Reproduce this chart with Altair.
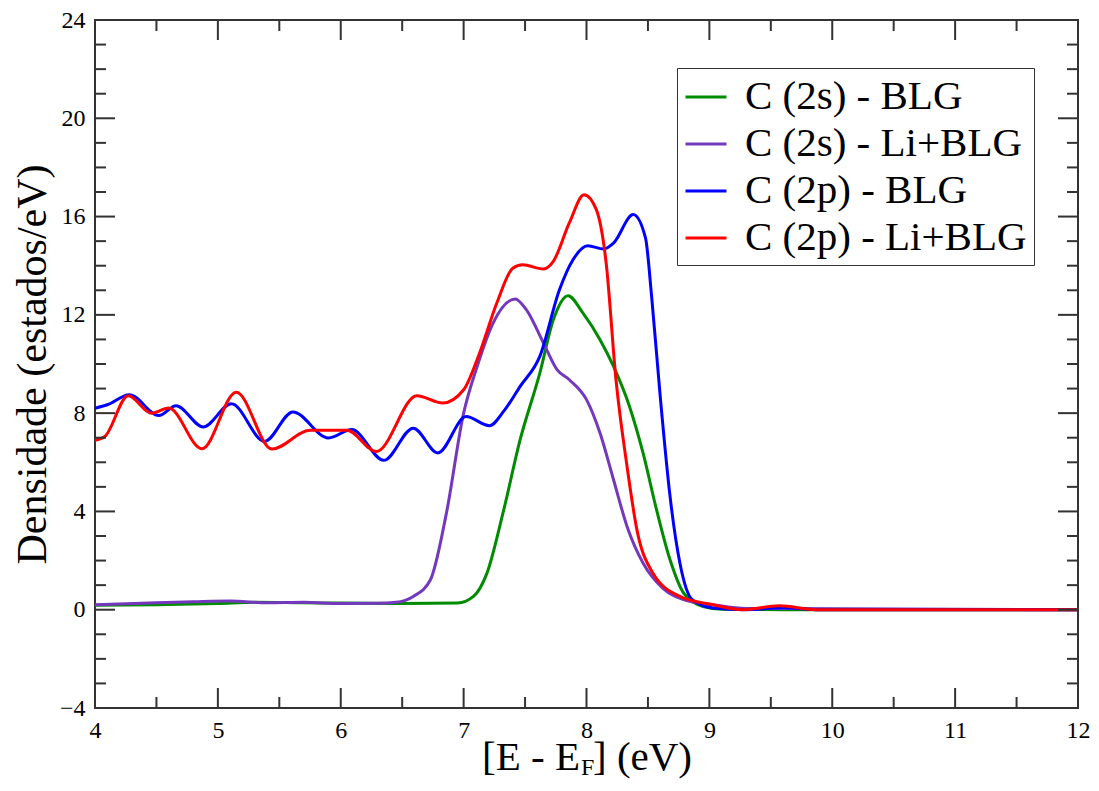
import altair as alt
import pandas as pd

series_names = ["C (2s) - BLG", "C (2s) - Li+BLG", "C (2p) - BLG", "C (2p) - Li+BLG"]
series_colors = ["#008b00", "#7438bf", "#0000ff", "#ff0000"]

s2_blg_x = [4.0, 4.5, 5.0, 5.3, 5.7, 6.0, 6.5, 6.95, 7.08, 7.19, 7.32, 7.46, 7.62, 7.73, 7.85,
            7.97, 8.11, 8.22, 8.35, 8.46, 8.57, 8.68, 8.79, 8.95, 9.1, 9.6, 12.0]
s2_blg_y = [0.18, 0.2, 0.25, 0.3, 0.28, 0.27, 0.25, 0.27, 0.54, 1.49, 3.93, 6.92, 9.63, 11.8, 12.78,
            12.08, 10.99, 9.9, 8.27, 6.38, 4.07, 2.03, 0.68, 0.13, 0.02, 0.0, 0.0]

s2_li_x = [4.0, 4.5, 4.8, 5.1, 5.4, 5.7, 6.0, 6.3, 6.45, 6.59, 6.73, 6.86, 7.0, 7.11, 7.24, 7.42,
           7.51, 7.65, 7.76, 7.86, 8.0, 8.11, 8.22, 8.33, 8.46, 8.62, 8.81, 9.03, 9.3, 9.6, 12.0]
s2_li_y = [0.2, 0.28, 0.32, 0.35, 0.28, 0.3, 0.25, 0.26, 0.3, 0.54, 1.22, 3.93, 8.0, 9.9, 11.67, 12.65,
           12.21, 10.85, 9.77, 9.36, 8.55, 7.19, 5.29, 3.39, 1.9, 0.88, 0.38, 0.2, 0.05, 0.05, 0.0]

p2_blg_x = [4.0, 4.10, 4.28, 4.52, 4.66, 4.88, 5.11, 5.38, 5.61, 5.90, 6.09, 6.35, 6.59, 6.79, 7.02,
            7.21, 7.33, 7.46, 7.62, 7.78, 7.89, 8.01, 8.14, 8.22, 8.38, 8.48, 8.53, 8.60, 8.68, 8.76,
            8.86, 9.03, 9.3, 9.6, 9.9, 12.0]
p2_blg_y = [8.2, 8.34, 8.75, 7.9, 8.3, 7.44, 8.38, 6.85, 8.05, 6.99, 7.33, 6.08, 7.39, 6.38, 7.86,
            7.49, 8.1, 9.09, 10.31, 13.02, 14.24, 14.81, 14.68, 14.92, 16.08, 15.13, 12.75, 8.68, 4.61, 1.9,
            0.41, 0.07, 0.0, 0.08, 0.0, 0.0]

p2_li_x = [4.0, 4.08, 4.27, 4.46, 4.60, 4.87, 5.15, 5.44, 5.75, 6.05, 6.29, 6.62, 6.83, 7.00, 7.13,
           7.27, 7.40, 7.48, 7.65, 7.73, 7.86, 7.98, 8.08, 8.16, 8.24, 8.33, 8.41, 8.54, 8.76, 9.03,
           9.27, 9.57, 9.87, 12.0]
p2_li_y = [6.9, 7.05, 8.71, 8.0, 8.21, 6.55, 8.85, 6.54, 7.3, 7.3, 6.44, 8.71, 8.41, 8.95, 10.45,
           12.48, 13.9, 14.04, 13.87, 14.18, 15.74, 16.89, 16.28, 14.11, 9.36, 5.83, 3.26, 1.49, 0.54, 0.2,
           0.0, 0.16, 0.0, 0.0]

x_major = [4, 5, 6, 7, 8, 9, 10, 11, 12]
x_minor = [4.5, 5.5, 6.5, 7.5, 8.5, 9.5, 10.5, 11.5]
y_major = [-4, 0, 4, 8, 12, 16, 20, 24]
y_minor = [-3, -2, -1, 1, 2, 3, 5, 6, 7, 9, 10, 11, 13, 14, 15, 17, 18, 19, 21, 22, 23]

W, H = 983, 688
MAJ, MIN = 20, 11
SERIF = "Liberation Serif"
FRAME = "#333333"

rows = []
for name, xs, ys in [(series_names[0], s2_blg_x, s2_blg_y),
                     (series_names[1], s2_li_x, s2_li_y),
                     (series_names[2], p2_blg_x, p2_blg_y),
                     (series_names[3], p2_li_x, p2_li_y)]:
    for i, (a, b) in enumerate(zip(xs, ys)):
        rows.append({"x": a, "y": b, "serie": name, "i": i})
df = pd.DataFrame(rows)

xscale = alt.Scale(domain=[4, 12], nice=False, zero=False)
yscale = alt.Scale(domain=[-4, 24], nice=False, zero=False)

xaxis = alt.Axis(values=x_major, ticks=False, domain=False, grid=False, title=None,
                 labelPadding=10, labelFlush=False)
yaxis = alt.Axis(values=y_major, ticks=False, domain=False, grid=False,
                 title="Densidade (estados/eV)", titlePadding=5,
                 labelPadding=10, labelFlush=False)

lines = alt.Chart(df).mark_line(strokeWidth=3, interpolate="monotone", clip=True).encode(
    x=alt.X("x:Q", scale=xscale, axis=xaxis),
    y=alt.Y("y:Q", scale=yscale, axis=yaxis),
    color=alt.Color("serie:N",
                    scale=alt.Scale(domain=series_names, range=series_colors),
                    legend=alt.Legend(title=None, orient="none", legendX=582, legendY=48,
                                      symbolType="stroke", symbolSize=1681, symbolStrokeWidth=3,
                                      labelLimit=500, labelOffset=17, rowPadding=5, padding=7,
                                      strokeColor=FRAME, fillColor="white")),
    order=alt.Order("i:Q"),
)

tick_layers = []
for vals, L in [(x_major, MAJ), (x_minor, MIN)]:
    d = pd.DataFrame({"x": vals})
    tick_layers.append(alt.Chart(d).mark_rule(color=FRAME, strokeWidth=2).encode(
        x=alt.X("x:Q", scale=xscale, axis=xaxis), y=alt.value(H), y2=alt.value(H - L)))
    tick_layers.append(alt.Chart(d).mark_rule(color=FRAME, strokeWidth=2).encode(
        x=alt.X("x:Q", scale=xscale, axis=xaxis), y=alt.value(0), y2=alt.value(L)))
for vals, L in [(y_major, MAJ), (y_minor, MIN)]:
    d = pd.DataFrame({"y": vals})
    tick_layers.append(alt.Chart(d).mark_rule(color=FRAME, strokeWidth=2).encode(
        y=alt.Y("y:Q", scale=yscale, axis=yaxis), x=alt.value(0), x2=alt.value(L)))
    tick_layers.append(alt.Chart(d).mark_rule(color=FRAME, strokeWidth=2).encode(
        y=alt.Y("y:Q", scale=yscale, axis=yaxis), x=alt.value(W), x2=alt.value(W - L)))

title_parts = ["[E - E", "F", "] (eV)"]
t1 = alt.Chart(pd.DataFrame({"t": [title_parts[0]]})).mark_text(
    font=SERIF, fontSize=41, align="right", baseline="alphabetic", color="black").encode(
    x=alt.value(485), y=alt.value(750), text="t:N")
t2 = alt.Chart(pd.DataFrame({"t": [title_parts[1]]})).mark_text(
    font=SERIF, fontSize=24, align="left", baseline="alphabetic", color="black").encode(
    x=alt.value(486), y=alt.value(755), text="t:N")
t3 = alt.Chart(pd.DataFrame({"t": [title_parts[2]]})).mark_text(
    font=SERIF, fontSize=41, align="left", baseline="alphabetic", color="black").encode(
    x=alt.value(498), y=alt.value(750), text="t:N")

chart = (
    alt.layer(lines, *tick_layers, t1, t2, t3)
    .properties(
        width=W, height=H,
        autosize=alt.AutoSizeParams(type="none"),
        padding={"left": 87, "top": 12, "right": 13, "bottom": 73},
    )
    .configure(background="white", font=SERIF)
    .configure_view(stroke=FRAME, strokeWidth=2)
    .configure_axis(labelFont=SERIF, labelFontSize=24, labelColor="black",
                    titleFont=SERIF, titleFontSize=42, titleFontWeight="normal",
                    titleColor="black")
    .configure_legend(labelFont=SERIF, labelFontSize=41, labelColor="black")
)

chart.save("out.html", embed_options={"renderer": "svg", "actions": False})
